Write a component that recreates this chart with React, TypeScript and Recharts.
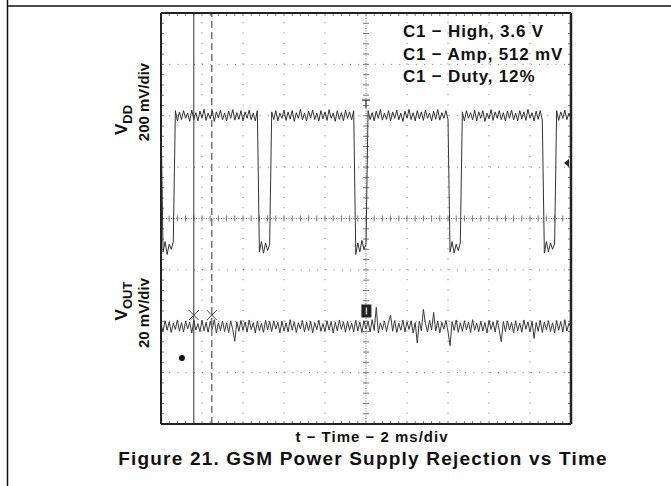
import React from 'react';
import { LineChart, Line, XAxis, YAxis, ReferenceLine, ReferenceDot } from 'recharts';

// Oscilloscope sampling interval (ms)
const SAMPLE_MS = 0.1;

// Channel 1: VDD (V), 200 mV/div, sampled every 0.1 ms over 20 ms
const vddVolts = [
  3.60, 3.07, 3.11, 3.06, 3.10, 3.08, 3.11, 3.62, 3.58, 3.615,
  3.585, 3.62, 3.59, 3.61, 3.578, 3.622, 3.585, 3.612, 3.58, 3.618,
  3.59, 3.625, 3.582, 3.61, 3.588, 3.62, 3.578, 3.615, 3.592, 3.622,
  3.584, 3.61, 3.58, 3.618, 3.59, 3.624, 3.583, 3.612, 3.586, 3.62,
  3.58, 3.615, 3.59, 3.622, 3.585, 3.61, 3.58, 3.62,
  3.07, 3.11, 3.065, 3.105, 3.075, 3.10,
  3.615, 3.585, 3.62, 3.58, 3.61, 3.59,
  3.622, 3.582, 3.615, 3.588, 3.62, 3.578, 3.612, 3.59, 3.625, 3.584,
  3.61, 3.58, 3.618, 3.592, 3.622, 3.585, 3.61, 3.58, 3.62, 3.588,
  3.615, 3.582, 3.624, 3.59, 3.61, 3.578, 3.62, 3.586, 3.612, 3.58,
  3.622, 3.59, 3.615, 3.584, 3.62,
  3.06, 3.105, 3.07, 3.115, 3.08, 3.10,
  3.62, 3.585, 3.612, 3.58, 3.618, 3.59, 3.624, 3.583, 3.61,
  3.586, 3.62, 3.58, 3.615, 3.59, 3.622, 3.584, 3.61, 3.578, 3.618,
  3.59, 3.625, 3.585, 3.612, 3.58, 3.62, 3.588, 3.615, 3.582, 3.622,
  3.59, 3.61, 3.58, 3.618, 3.586, 3.624, 3.583, 3.612, 3.59, 3.62,
  3.585,
  3.07, 3.11, 3.065, 3.10, 3.075, 3.105,
  3.615, 3.58, 3.62,
  3.59, 3.612, 3.584, 3.622, 3.58, 3.615, 3.59, 3.62, 3.578, 3.61,
  3.588, 3.624, 3.582, 3.615, 3.59, 3.62, 3.585, 3.612, 3.58, 3.618,
  3.59, 3.622, 3.584, 3.61, 3.58, 3.62, 3.588, 3.615, 3.582, 3.625,
  3.59, 3.612, 3.58, 3.618, 3.586, 3.62, 3.584,
  3.065, 3.11, 3.07, 3.105, 3.08, 3.10,
  3.62, 3.582, 3.615, 3.59, 3.622, 3.585, 3.61, 3.59,
];

// Channel 2: VOUT ripple (mV), 20 mV/div, same sampling
const voutMilliVolts = [
  0.5, -1.8, 2.2, -1.5, 1.8, -2.4, 1.2, -1.2, 2.5, -1.9,
  1.5, -2.2, 2.0, -1.0, 1.7, -2.6, 2.3, -1.4, 1.1, -2.0,
  2.4, -1.7, 1.6, -2.3, 1.9, -1.1, 2.6, -2.5, 1.3, -1.6,
  2.1, -2.0, 1.4, -2.4, 2.2, -1.3, -5.8, 1.8, -1.9, 2.3,
  -1.5, 1.7, -2.2, 2.5, -1.2, 1.5, -2.6, 2.0, -1.7, 1.2,
  -2.3, 2.4, -1.4, 1.9, -2.0, 2.2, -1.1, 1.6, -2.5, 2.1,
  -1.8, 1.3, -2.1, 2.6, -1.5, 1.8, -2.4, 1.4, -1.0, 2.3,
  -2.2, 1.7, -1.6, 2.0, -2.5, 1.5, -1.3, 2.4, -1.9, 1.1,
  -2.0, 2.2, -1.4, 1.9, -2.6, 1.6, -1.7, 2.5, -1.2, 1.8,
  -2.3, 2.0, -1.5, 1.3, -2.1, 2.4, -1.8, 1.7, -2.4, 2.2,
  -1.1, 1.9, -2.2, 2.6, -1.6, 7.4, -2.5, 1.4, -1.3, 2.1,
  -2.0, 1.6, 4.3, -1.9, 2.3, -2.4, 1.2, -1.5, 2.5, -2.1,
  1.8, -1.2, 2.2, -2.6, 1.5, -6.5, 2.0, -1.7, 6.6, 1.1,
  -2.2, 2.4, -1.4, 5.5, -1.8, 2.1, -2.5, 1.6, -1.1, 2.3,
  -2.0, -7.5, 1.9, -1.6, 2.5, -2.3, 1.4, -1.9, 2.2, -1.3,
  1.7, -2.4, 2.6, -1.5, 1.2, -2.1, 2.0, -1.8, 1.5, -2.6,
  2.3, -1.2, 1.8, -2.2, 2.4, -1.6, -6.0, 1.9, -2.0, 2.1,
  -1.4, 1.6, -2.5, 2.2, -1.7, 1.3, -2.3, 2.5, -1.1, 1.8,
  -2.1, 2.0, -4.7, 1.5, -1.9, 2.4, -2.4, 1.7, -1.3, 2.2,
  -2.0, 1.4, -2.6, 2.3, -1.5, 1.9, -2.2, 2.6, -1.8, 1.2,
  -0.5,
];

// Screen: 10 x 2 ms horizontal, 8 vertical divisions
const timeDomain = [0, 20];
const vddDomain = [2.4, 4.0];
const voutDomain = [-38, 122];
const gridTimes = [2, 4, 6, 8, 12, 14, 16, 18];
const gridVdd = [2.6, 2.8, 3.0, 3.4, 3.6, 3.8];
const centerTime = 10;
const centerVdd = 3.2;
const cursorTimes = [1.6, 2.48];
const measurementLabels = ['C1 \u2212 High, 3.6 V', 'C1 \u2212 Amp, 512 mV', 'C1 \u2212 Duty, 12%'];

const vddData = vddVolts.map((v, i) => ({ t: +(i * SAMPLE_MS).toFixed(2), v }));
const voutData = voutMilliVolts.map((v, i) => ({ t: +(i * SAMPLE_MS).toFixed(2), v }));

// minor graticule ticks: 5 per division
const minorTimes = Array.from({ length: 51 }, (_, i) => +(i * 0.4).toFixed(2));
const minorVdd = Array.from({ length: 41 }, (_, i) => +(2.4 + i * 0.04).toFixed(3));
const TICK_T = 0.146; // ~3px in ms
const TICK_V = 0.0117; // ~3px in V

const GRID = '#777';
const FRAME = '#222';
const FONT = '"Liberation Sans", Arial, Helvetica, sans-serif';

const XMark = (props: any) => {
  const { cx, cy } = props;
  return (
    <g stroke="#444" strokeWidth={1} fill="none">
      <line x1={cx - 5} y1={cy - 6} x2={cx + 5} y2={cy + 4} />
      <line x1={cx - 5} y1={cy + 4} x2={cx + 5} y2={cy - 6} />
    </g>
  );
};

const TMark = (props: any) => {
  const { cx, cy } = props;
  return (
    <g stroke="#333" strokeWidth={1.2}>
      <line x1={cx - 4} y1={cy} x2={cx + 4} y2={cy} />
      <line x1={cx} y1={cy} x2={cx} y2={cy + 8} />
    </g>
  );
};

const LevelMark = (props: any) => {
  const { cx, cy } = props;
  return <path d={`M${cx - 7},${cy} L${cx - 2},${cy - 4} L${cx - 2},${cy + 4} Z`} fill="#222" />;
};

const RefMark = (props: any) => {
  const { cx, cy } = props;
  return (
    <g>
      <rect x={cx - 5} y={cy - 7} width={10} height={13} fill="#222" />
      <line x1={cx} y1={cy - 4} x2={cx} y2={cy + 3} stroke="#ccc" strokeWidth={1.5} />
    </g>
  );
};

const GroundDot = (props: any) => {
  const { cx, cy } = props;
  return <circle cx={cx} cy={cy} r={3} fill="#111" />;
};

export default function App() {
  return (
    <div style={{ position: 'absolute', left: 0, top: 0, width: 671, height: 486, background: '#fff' }}>
      <LineChart width={671} height={486} margin={{ top: 13, right: 100, bottom: 62, left: 161 }}>
        <XAxis type="number" dataKey="t" domain={timeDomain} hide allowDataOverflow />
        <YAxis yAxisId="vdd" type="number" domain={vddDomain} hide allowDataOverflow />
        <YAxis yAxisId="vout" type="number" domain={voutDomain} hide allowDataOverflow />

        {gridTimes.map((t) => (
          <ReferenceLine key={'gx' + t} yAxisId="vdd" x={t} stroke={GRID} strokeDasharray="1 9.275" />
        ))}
        {gridVdd.map((v) => (
          <ReferenceLine key={'gy' + v} yAxisId="vdd" y={v} stroke={GRID} strokeDasharray="1 7.22" />
        ))}
        <ReferenceLine yAxisId="vdd" x={centerTime} stroke={GRID} strokeDasharray="1 1.5" />
        <ReferenceLine yAxisId="vdd" y={centerVdd} stroke={GRID} strokeDasharray="1 1.5" />

        {minorTimes.map((t) => (
          <ReferenceLine key={'ct' + t} yAxisId="vdd" stroke={GRID}
            segment={[{ x: t, y: centerVdd - TICK_V }, { x: t, y: centerVdd + TICK_V }]} />
        ))}
        {minorVdd.map((v) => (
          <ReferenceLine key={'cv' + v} yAxisId="vdd" stroke={GRID}
            segment={[{ x: centerTime - TICK_T, y: v }, { x: centerTime + TICK_T, y: v }]} />
        ))}
        {minorTimes.map((t) => (
          <ReferenceLine key={'tt' + t} yAxisId="vdd" stroke={GRID}
            segment={[{ x: t, y: vddDomain[1] }, { x: t, y: vddDomain[1] - TICK_V }]} />
        ))}
        {minorTimes.map((t) => (
          <ReferenceLine key={'bt' + t} yAxisId="vdd" stroke={GRID}
            segment={[{ x: t, y: vddDomain[0] }, { x: t, y: vddDomain[0] + TICK_V }]} />
        ))}
        {minorVdd.map((v) => (
          <ReferenceLine key={'lt' + v} yAxisId="vdd" stroke={GRID}
            segment={[{ x: timeDomain[0], y: v }, { x: timeDomain[0] + TICK_T, y: v }]} />
        ))}
        {minorVdd.map((v) => (
          <ReferenceLine key={'rt' + v} yAxisId="vdd" stroke={GRID}
            segment={[{ x: timeDomain[1], y: v }, { x: timeDomain[1] - TICK_T, y: v }]} />
        ))}

        <ReferenceLine yAxisId="vdd" x={cursorTimes[0]} stroke="#333" strokeWidth={1} />
        <ReferenceLine yAxisId="vdd" x={cursorTimes[1]} stroke="#333" strokeWidth={1} strokeDasharray="7 4" />

        <Line yAxisId="vdd" data={vddData} dataKey="v" type="linear" stroke="#333" strokeWidth={1}
          dot={false} isAnimationActive={false} />
        <Line yAxisId="vout" data={voutData} dataKey="v" type="linear" stroke="#3a3a3a" strokeWidth={1}
          dot={false} isAnimationActive={false} />

        <ReferenceDot yAxisId="vout" x={cursorTimes[0]} y={4} shape={XMark} />
        <ReferenceDot yAxisId="vout" x={cursorTimes[1]} y={4} shape={XMark} />
        <ReferenceDot yAxisId="vout" x={10.02} y={5.8} shape={RefMark} />
        <ReferenceDot yAxisId="vout" x={1.02} y={-12.3} shape={GroundDot} />
        <ReferenceDot yAxisId="vdd" x={10} y={3.661} shape={TMark} />
        <ReferenceDot yAxisId="vdd" x={20} y={3.416} shape={LevelMark} />

        <ReferenceLine yAxisId="vdd" x={timeDomain[0]} stroke={FRAME} strokeWidth={2} />
        <ReferenceLine yAxisId="vdd" x={timeDomain[1]} stroke={FRAME} strokeWidth={2.5} />
        <ReferenceLine yAxisId="vdd" y={vddDomain[0]} stroke={FRAME} strokeWidth={2} />
        <ReferenceLine yAxisId="vdd" y={vddDomain[1]} stroke={FRAME} strokeWidth={2} />
      </LineChart>

      <svg width={671} height={486} style={{ position: 'absolute', left: 0, top: 0, pointerEvents: 'none' }}>
        <line x1={7.5} y1={0} x2={7.5} y2={486} stroke="#111" strokeWidth={1.5} />
        <line x1={7.5} y1={6} x2={671} y2={6} stroke="#111" strokeWidth={1.5} />
        <g fontFamily={FONT} fontWeight="bold" fill="#111">
          {measurementLabels.map((s, i) => (
            <text key={s} x={403} y={37 + i * 22.5} fontSize={17} letterSpacing={0.8}>{s}</text>
          ))}
          <text transform="translate(127,120) rotate(-90)" textAnchor="middle" fontSize={17}>
            V<tspan fontSize={13} dy={5}>DD</tspan>
          </text>
          <text transform="translate(149,102) rotate(-90)" textAnchor="middle" fontSize={15}>200 mV/div</text>
          <text transform="translate(127,301) rotate(-90)" textAnchor="middle" fontSize={17}>
            V<tspan fontSize={13} dy={5}>OUT</tspan>
          </text>
          <text transform="translate(149,313) rotate(-90)" textAnchor="middle" fontSize={15}>20 mV/div</text>
          <text x={372} y={442} textAnchor="middle" fontSize={15} letterSpacing={1}>t {'\u2212'} Time {'\u2212'} 2 ms/div</text>
          <text x={363} y={465} textAnchor="middle" fontSize={19} letterSpacing={1.2}>Figure 21. GSM Power Supply Rejection vs Time</text>
        </g>
      </svg>
    </div>
  );
}
